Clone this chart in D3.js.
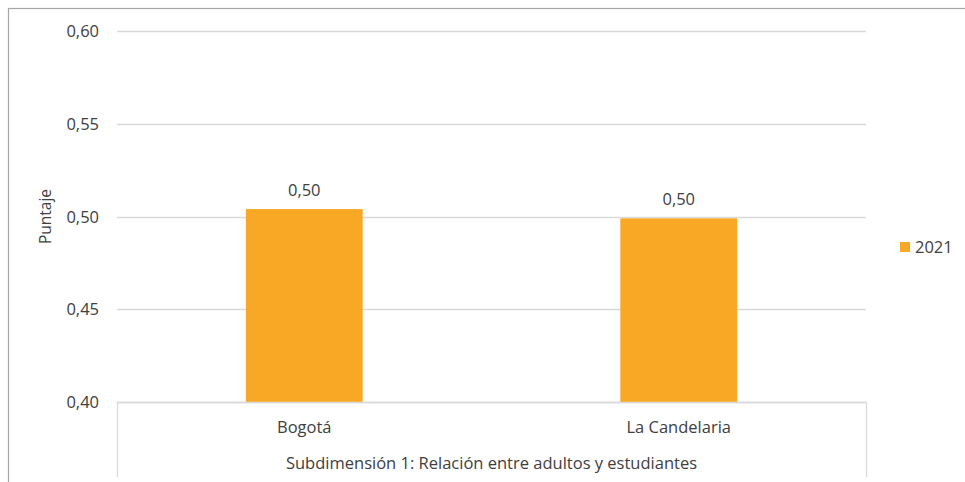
<!DOCTYPE html>
<html>
<head>
<meta charset="utf-8">
<script src="https://cdn.jsdelivr.net/npm/d3@7"></script>
<style>
  body { margin: 0; background: #fff; }
  svg text { font-family: "Open Sans", Lato, sans-serif; fill: #404040; }
</style>
</head>
<body>
<svg id="chart" width="965" height="482"></svg>
<script>
// data
const categories = ["Bogotá", "La Candelaria"];
const values2021 = [0.504, 0.499];
const valueLabels = ["0,50", "0,50"];
const yTicks = [0.40, 0.45, 0.50, 0.55, 0.60];
const groupLabel = "Subdimensión 1: Relación entre adultos y estudiantes";
const seriesName = "2021";

const svg = d3.select("#chart");
const plotLeft = 117, plotRight = 866, plotTop = 31, plotBottom = 402;
const barColor = "#F9A825";
const fs = "16.5px";

// chart border
svg.append("rect")
  .attr("x", 8.5).attr("y", 8.5)
  .attr("width", 1000).attr("height", 1000)
  .attr("fill", "none").attr("stroke", "#A6A6A6").attr("stroke-width", 1.2);

const y = d3.scaleLinear().domain([0.40, 0.60]).range([plotBottom, plotTop]);
const x = d3.scaleBand().domain(categories).range([plotLeft, plotRight]).paddingInner(0.688).paddingOuter(0.344);

// gridlines
svg.append("g")
  .selectAll("line")
  .data(yTicks)
  .join("line")
  .attr("x1", plotLeft).attr("x2", plotRight)
  .attr("y1", d => Math.round(y(d)) + 0.5).attr("y2", d => Math.round(y(d)) + 0.5)
  .attr("stroke", "#D9D9D9").attr("stroke-width", 1.3);

// y tick labels
svg.append("g")
  .selectAll("text")
  .data(yTicks)
  .join("text")
  .attr("x", 99).attr("y", d => y(d) + 6)
  .attr("text-anchor", "end")
  .style("font-size", fs)
  .text(d => d3.format(".2f")(d).replace(".", ","));

// axis title
svg.append("text")
  .attr("transform", `translate(51,${(plotTop + plotBottom) / 2}) rotate(-90)`)
  .attr("text-anchor", "middle")
  .style("font-size", "15.5px")
  .text("Puntaje");

// bars
svg.append("g")
  .selectAll("rect")
  .data(values2021)
  .join("rect")
  .attr("x", (d, i) => x(categories[i]))
  .attr("y", d => y(d))
  .attr("width", x.bandwidth())
  .attr("height", d => plotBottom - y(d))
  .attr("fill", barColor);

// value labels
svg.append("g")
  .selectAll("text")
  .data(values2021)
  .join("text")
  .attr("x", (d, i) => x(categories[i]) + x.bandwidth() / 2)
  .attr("y", d => y(d) - 13)
  .attr("text-anchor", "middle")
  .style("font-size", fs)
  .text((d, i) => valueLabels[i]);

// category axis box
const axis = svg.append("g").attr("stroke", "#D9D9D9").attr("stroke-width", 1.3);
axis.append("line").attr("x1", plotLeft).attr("x2", plotRight).attr("y1", plotBottom + 0.5).attr("y2", plotBottom + 0.5);
axis.append("line").attr("x1", plotLeft + 0.5).attr("x2", plotLeft + 0.5).attr("y1", plotBottom).attr("y2", 477);
axis.append("line").attr("x1", plotRight + 0.5).attr("x2", plotRight + 0.5).attr("y1", plotBottom).attr("y2", 477);

svg.append("g")
  .selectAll("text")
  .data(categories)
  .join("text")
  .attr("x", d => x(d) + x.bandwidth() / 2)
  .attr("y", 433)
  .attr("text-anchor", "middle")
  .style("font-size", fs)
  .text(d => d);

svg.append("text")
  .attr("x", (plotLeft + plotRight) / 2).attr("y", 469)
  .attr("text-anchor", "middle")
  .style("font-size", fs)
  .text(groupLabel);

// legend
svg.append("rect")
  .attr("x", 900).attr("y", 242).attr("width", 10).attr("height", 10)
  .attr("fill", barColor);
svg.append("text")
  .attr("x", 915).attr("y", 253)
  .style("font-size", fs)
  .text(seriesName);
</script>
</body>
</html>
